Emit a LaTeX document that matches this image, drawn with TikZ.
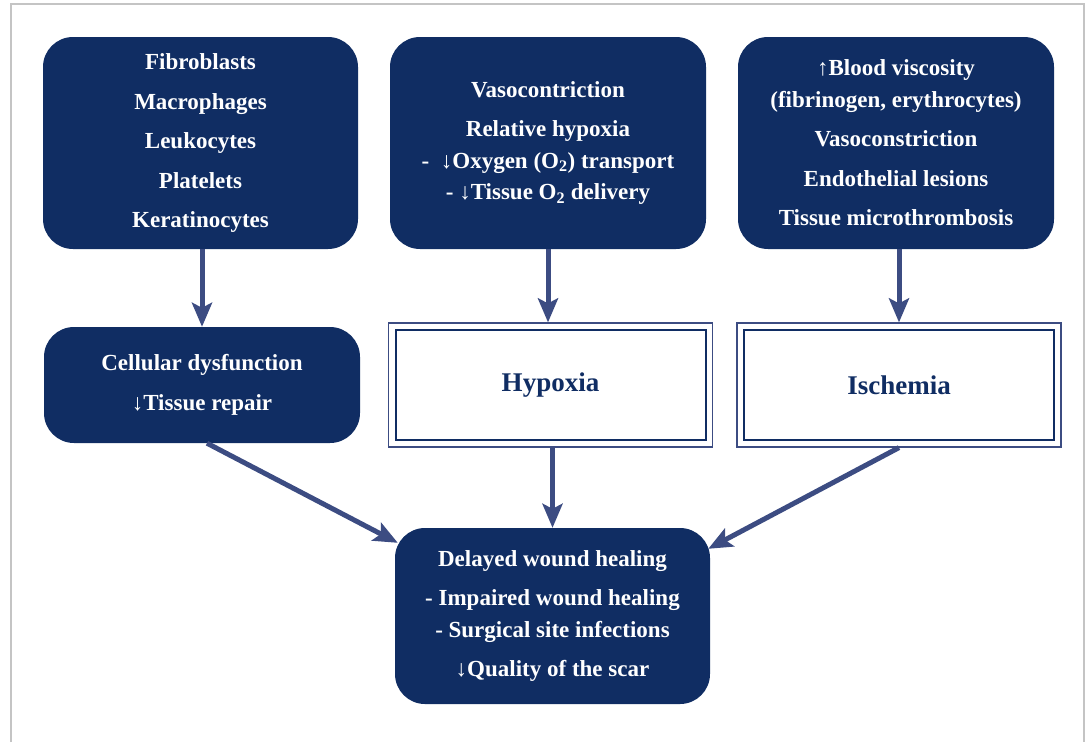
\documentclass[tikz,border=0pt]{standalone}
\usepackage{fontspec}
\setmainfont{Liberation Serif}
\usepackage{tikz}
\usetikzlibrary{calc}
\usetikzlibrary{arrows.meta}
\usepackage{xcolor}
\definecolor{navy}{RGB}{16,45,99}
\definecolor{arrowblue}{RGB}{60,76,130}
\definecolor{framegray}{RGB}{196,196,196}

\begin{document}
\begin{tikzpicture}[x=1pt, y=-1pt]
	    \tikzstyle{darkbox}=[rectangle, rounded corners=30pt, fill=navy, text=white, align=center, inner sep=0pt, font=\bfseries\fontsize{23}{31.5}\selectfont]
	    \tikzstyle{framebox}=[rectangle, draw=arrowblue, line width=1.2pt, fill=white, text=navy, font=\bfseries\fontsize{27}{32}\selectfont, minimum width=324pt, minimum height=124pt,
	        path picture={\draw[navy, line width=2pt] ([shift={(7pt,-7pt)}]path picture bounding box.north west) rectangle ([shift={(-7pt,7pt)}]path picture bounding box.south east);}]
	    \tikzstyle{edge}=[draw, line width=5pt, arrowblue, -{Stealth[length=24pt, width=20pt, inset=5pt]}]
	    \useasboundingbox (0,0) rectangle (1091,742);
	    \draw[framegray, line width=1.5pt] (11,742) -- (11,4) -- (1084,4) -- (1084,742);
	    \node[darkbox, minimum width=315pt, minimum height=212pt] (cells) at (200.5,143) {Fibroblasts\\[8pt] Macrophages\\[8pt] Leukocytes\\[8pt] Platelets\\[8pt] Keratinocytes};
	    \node[darkbox, minimum width=316pt, minimum height=212pt] (vaso) at (548,143) {Vasocontriction\\[8pt] Relative hypoxia\\ -\ \ ↓Oxygen (O\textsubscript{2}) transport\\ - ↓Tissue O\textsubscript{2} delivery};
	    \node[darkbox, minimum width=316pt, minimum height=212pt] (blood) at (896,143) {↑Blood viscosity\\ (fibrinogen, erythrocytes)\\[8pt] Vasoconstriction\\[8pt] Endothelial lesions\\[8pt] Tissue microthrombosis};
	    \node[darkbox, minimum width=316pt, minimum height=116pt] (dysf) at (202,385) {Cellular dysfunction\\[8pt] ↓Tissue repair};
	    \node[framebox] (hyp) at (550.5,385) {Hypoxia};
	    \node[framebox] (isch) at (899,385) {Ischemia};
	    \node[darkbox, minimum width=315pt, minimum height=176pt] (heal) at (552.5,616) {Delayed wound healing\\[8pt] - Impaired wound healing\\ - Surgical site infections\\[8pt] ↓Quality of the scar};
	    \draw[edge] (dysf.north |- cells.south) -- (dysf.north);
	    \draw[edge] (vaso.south) -- (vaso.south |- hyp.north);
	    \draw[edge] (isch.north |- blood.south) -- (isch.north);
	    \draw[edge] (heal.north |- hyp.south) -- (heal.north);
	    \draw[edge] ([xshift=5pt]dysf.south) -- ([shift={(3pt,-15pt)}]heal.north west);
	    \draw[edge] (isch.south) -- ([shift={(-2pt,-21pt)}]heal.north east);
	\end{tikzpicture}
\end{document}
